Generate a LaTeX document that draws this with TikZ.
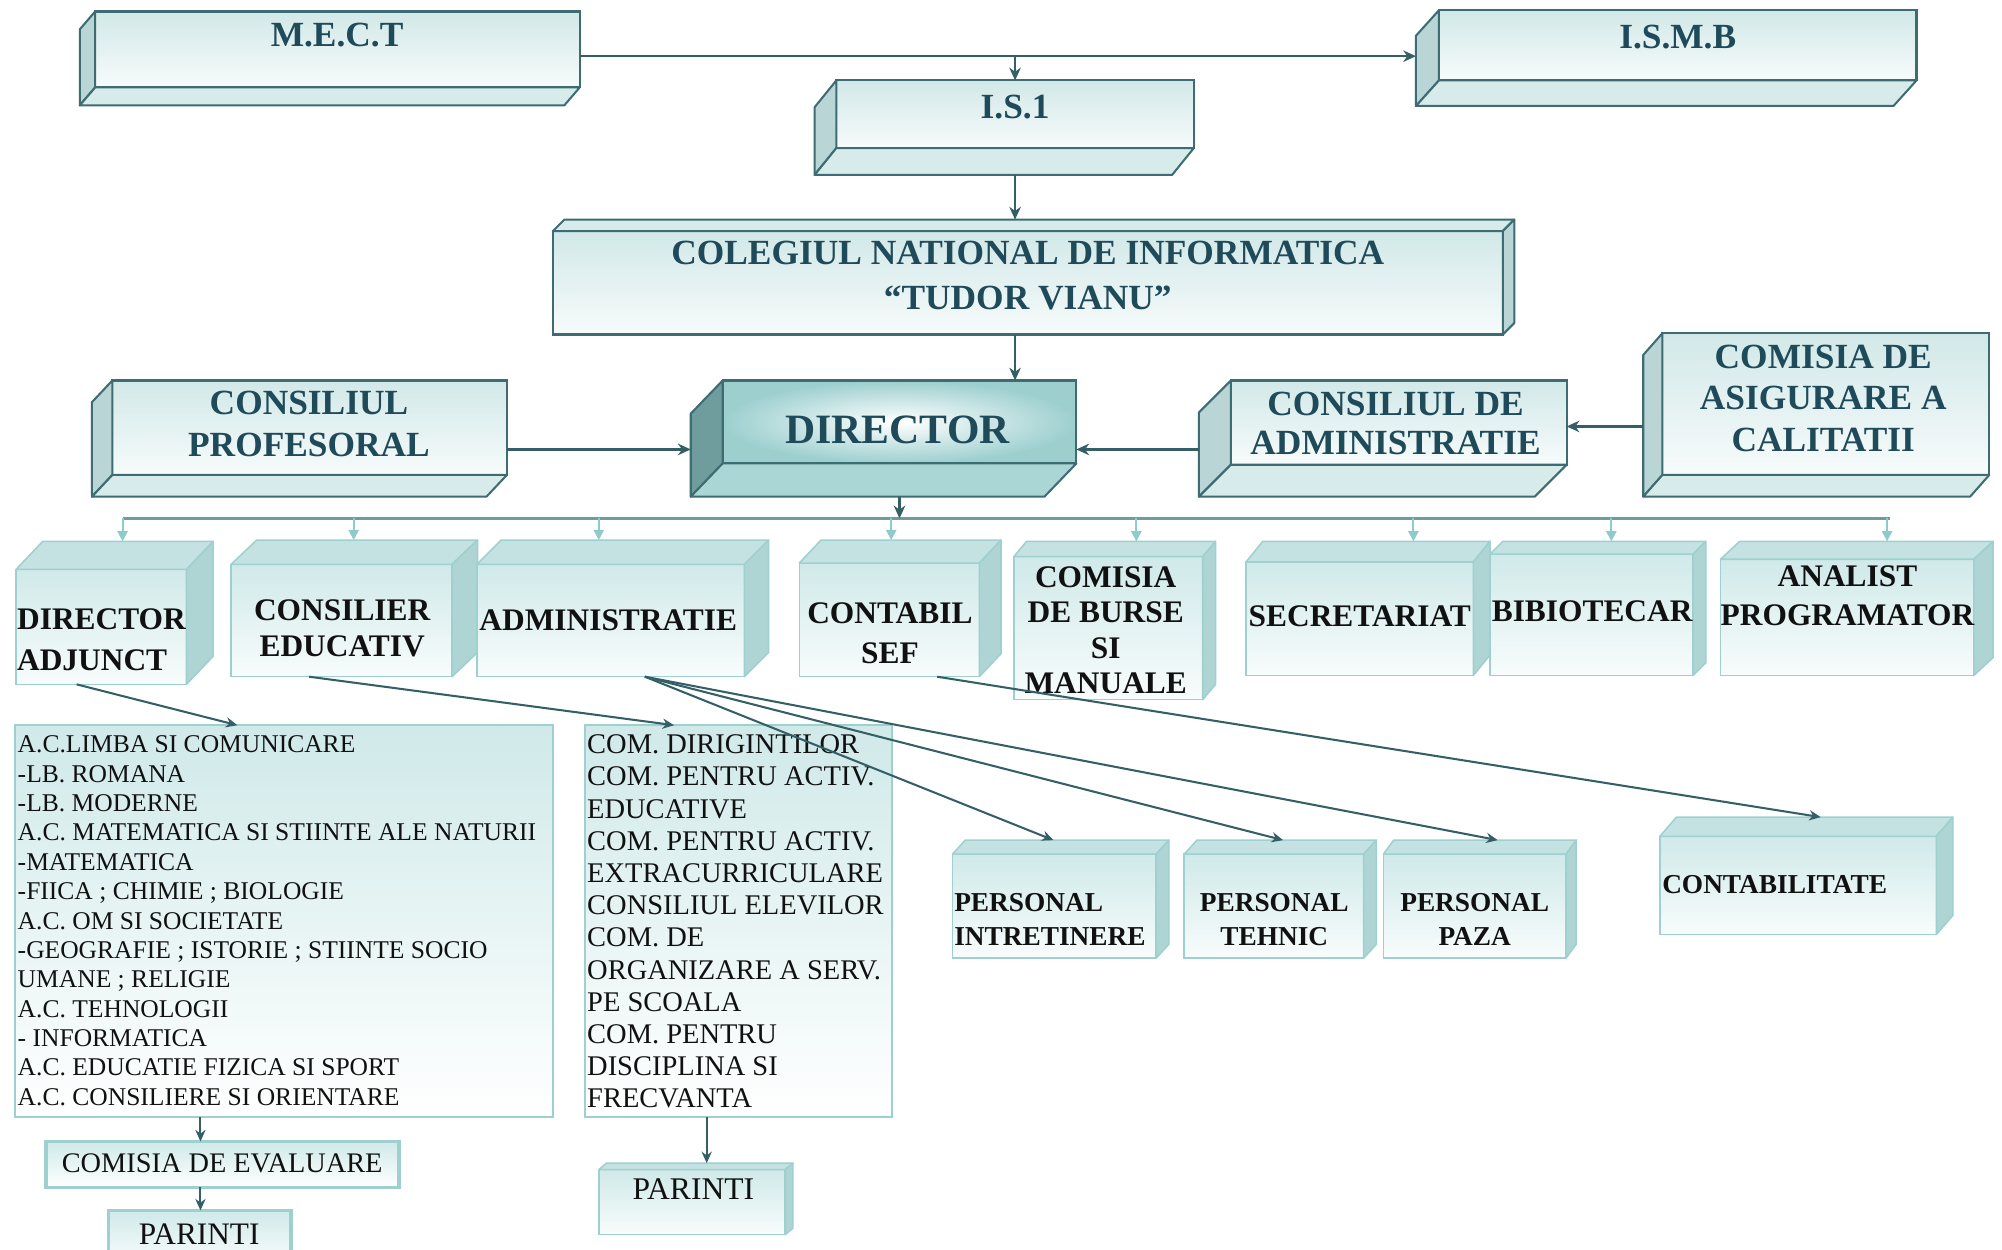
\documentclass[tikz,border=0pt]{standalone}
\usepackage{fontspec}
\setmainfont{Liberation Serif}
\usetikzlibrary{arrows.meta,calc}
\definecolor{dk}{HTML}{3D6C72}
\definecolor{tbT}{HTML}{D2E8E8}
\definecolor{tbB}{HTML}{F7FBFB}
\definecolor{tbS}{HTML}{BAD5D6}
\definecolor{tbBot}{HTML}{D7EBEB}
\definecolor{dirF}{HTML}{9DCFCF}
\definecolor{dirS}{HTML}{6F9D9E}
\definecolor{dirB}{HTML}{ABD6D6}
\definecolor{lt}{HTML}{9ED0D0}
\definecolor{lbT}{HTML}{D0E9E9}
\definecolor{lbB}{HTML}{F8FCFC}
\definecolor{lbTop}{HTML}{C4E2E2}
\definecolor{lbR}{HTML}{AFD4D4}
\definecolor{txtdk}{HTML}{1F4A59}
\definecolor{cn}{HTML}{345F66}
\definecolor{busc}{HTML}{6E9CA1}
\definecolor{dropc}{HTML}{8ECCCC}
\definecolor{txtbk}{HTML}{111111}

\newcommand{\dlbox}[8]{%
  \node[#8, minimum width={(#4-#2)*0.5pt}, minimum height={(#5-#3)*0.5pt}] (#1) at ({(#2+#4)/2},{(#3+#5)/2}) {};
  \draw[#8side] (#1.north west) -- ++(#6,#7) -- ([shift={(#6,#7)}]#1.south west) -- (#1.south west) -- cycle;
  \draw[#8bot] (#1.south west) -- ++(#6,#7) -- ([shift={(#6,#7)}]#1.south east) -- (#1.south east) -- cycle;
}
\newcommand{\urbox}[8]{%
  \node[#8, minimum width={(#4-#2)*0.5pt}, minimum height={(#5-#3)*0.5pt}] (#1) at ({(#2+#4)/2},{(#3+#5)/2}) {};
  \draw[#8top] (#1.north west) -- ++(#6,#7) -- ([shift={(#6,#7)}]#1.north east) -- (#1.north east) -- cycle;
  \draw[#8right] (#1.north east) -- ++(#6,#7) -- ([shift={(#6,#7)}]#1.south east) -- (#1.south east) -- cycle;
  \coordinate (#1-tl) at ([shift={(#6,#7)}]#1.north west);
  \coordinate (#1-tr) at ([shift={(#6,#7)}]#1.north east);
}
\newcommand{\flatbox}[6]{%
  \node[#6, minimum width={(#4-#2)*0.5pt}, minimum height={(#5-#3)*0.5pt}] (#1) at ({(#2+#4)/2},{(#3+#5)/2}) {};
}

\begin{document}
\begin{tikzpicture}[x=0.5pt,y=-0.5pt,
  tb/.style={draw=dk, line width=0.8pt, top color=tbT, bottom color=tbB, inner sep=0pt, outer sep=0pt},
  tbside/.style={draw=dk, line width=0.8pt, fill=tbS, line join=round},
  tbbot/.style={draw=dk, line width=0.8pt, fill=tbBot, line join=round},
  tbtop/.style={draw=dk, line width=0.8pt, fill=tbBot, line join=round},
  tbright/.style={draw=dk, line width=0.8pt, fill=tbS, line join=round},
  dirf/.style={draw=dk, line width=0.8pt, inner color=white, outer color=dirF, inner sep=0pt, outer sep=0pt},
  dirfside/.style={draw=dk, line width=0.8pt, fill=dirS, line join=round},
  dirfbot/.style={draw=dk, line width=0.8pt, fill=dirB, line join=round},
  lb/.style={draw=lt, line width=0.6pt, top color=lbT, bottom color=lbB, inner sep=0pt, outer sep=0pt},
  lbtop/.style={draw=lt, line width=0.6pt, fill=lbTop, line join=round},
  lbright/.style={draw=lt, line width=0.6pt, fill=lbR, line join=round},
  listbox/.style={draw=lt, line width=0.7pt, top color=lbT, bottom color=white, inner sep=0pt, outer sep=0pt},
  flatb/.style={draw=lt, line width=1.4pt, top color=lbT, bottom color=white, inner sep=0pt, outer sep=0pt},
  toptxt/.style={font=\fontsize{13.85}{#1}\selectfont\bfseries, text=txtdk, align=center, inner sep=0pt},
  toptxt/.default=17pt,
  midtxt/.style={font=\fontsize{12.3}{#1}\selectfont\bfseries, text=txtbk, align=center, inner sep=0pt},
  midtxt/.default=15pt,
  lowtxt/.style={font=\fontsize{10.7}{13.25}\selectfont\bfseries, text=txtbk, align=center, inner sep=0pt},
  conn/.style={draw=cn, line width=1pt, -{Stealth[length=5pt,width=4.5pt]}},
  conn2/.style={draw=cn, line width=0.8pt, -{Stealth[length=4.5pt,width=4pt]}},
  busline/.style={draw=busc, line width=1.1pt},
  drop/.style={draw=dropc, line width=0.8pt, -{Triangle[length=4pt,width=4pt]}}
]
\useasboundingbox[fill=white] (0,0) rectangle (1568,979);

% ---------- top level ----------
\dlbox{mect}{74.5}{9}{454}{68.5}{-12}{14}{tb}
\node[toptxt] (mect-t) at (264,27.5) {M.E.C.T};
\dlbox{ismb}{1127}{8}{1501}{63}{-18}{20}{tb}
\node[toptxt] (ismb-t) at (1314,29) {I.S.M.B};
\dlbox{is1}{655}{63}{935}{116}{-17}{21}{tb}
\node[toptxt] (is1-t) at (795,83.5) {I.S.1};
\urbox{coleg}{433}{181}{1177}{262}{9}{-9}{tb}
\node[toptxt=17.5pt] (coleg-t) at (805,216) {COLEGIUL NATIONAL DE INFORMATICA\\“TUDOR VIANU”};
\dlbox{cprof}{88}{298}{397}{372}{-16}{17}{tb}
\node[toptxt=16.75pt] (cprof-t) at (242,332) {CONSILIUL\\PROFESORAL};
\dlbox{director}{566}{298}{843}{363}{-25}{26}{dirf}
\node[font=\fontsize{16.35}{19}\selectfont\bfseries, text=txtdk, inner sep=0pt] (director-t) at (703,336.5) {DIRECTOR};
\dlbox{cda}{964}{298}{1227}{364}{-25}{25}{tb}
\node[toptxt=15.5pt] (cda-t) at (1093,331.5) {CONSILIUL DE\\ADMINISTRATIE};
\dlbox{cac}{1302}{261}{1558}{372}{-15}{17}{tb}
\node[toptxt=16.3pt] (cac-t) at (1428,312) {COMISIA DE\\ASIGURARE A\\CALITATII};

% ---------- top connectors ----------
\coordinate (j1) at (795,44);
\coordinate (ismbL) at ([xshift=-9pt]ismb.west);
\draw[conn] (mect.east |- j1) -- (ismbL |- j1);
\draw[conn] (j1) -- (is1.north);
\coordinate (is1B) at ([yshift=-10.5pt]is1.south);
\coordinate (colT) at ([yshift=4.5pt]coleg.north);
\draw[conn] (is1B) -- (colT -| is1B);
\draw[conn] (coleg.south -| j1) -- (director.north -| j1);
\coordinate (r2) at (0,352);
\coordinate (dirL) at ([xshift=-12.5pt]director.west);
\coordinate (cdaL) at ([xshift=-12.5pt]cda.west);
\coordinate (cacL) at ([xshift=-7.5pt]cac.west);
\draw[conn] (cprof.east |- r2) -- (dirL |- r2);
\draw[conn] (cdaL |- r2) -- (director.east |- r2);
\coordinate (r3) at (0,334);
\draw[conn] (cacL |- r3) -- (cda.east |- r3);

% ---------- second row ----------
\urbox{dadj}{12.5}{446}{146}{536}{21}{-22}{lb}
\node[midtxt=15.75pt, align=left, anchor=west] (dadj-t) at (13,501) {DIRECTOR\\ADJUNCT};
\urbox{cedu}{181}{442}{354}{530}{20}{-19}{lb}
\node[midtxt=14.35pt] (cedu-t) at (268,492) {CONSILIER\\EDUCATIV};
\urbox{admin}{373.5}{442}{583}{530}{19}{-19}{lb}
\node[midtxt] (admin-t) at (476.4,485.5) {ADMINISTRATIE};
\urbox{csef}{626}{441}{767}{530}{17}{-18}{lb}
\node[midtxt=15.75pt] (csef-t) at (697,495.75) {CONTABIL\\SEF};
\urbox{cbm}{794}{436}{942}{548}{10}{-12}{lb}
\node[midtxt=13.9pt] (cbm-t) at (866,493.5) {COMISIA\\DE BURSE\\SI\\MANUALE};
\urbox{secr}{976}{440}{1154}{529}{13}{-16}{lb}
\node[midtxt] (secr-t) at (1065,483) {SECRETARIAT};
\urbox{bib}{1167}{434}{1326}{529}{10}{-10}{lb}
\node[midtxt] (bib-t) at (1247,479) {BIBIOTECAR};
\urbox{anal}{1347.5}{438}{1546}{529}{15}{-14}{lb}
\node[midtxt=15pt] (anal-t) at (1447,466.6) {ANALIST\\PROGRAMATOR};

% ---------- bus ----------
\coordinate (busL) at (96,406);
\coordinate (busR) at (1480,406);
\draw[busline] (busL) -- (busR);
\coordinate (dirB) at ([yshift=-13pt]director.south);
\draw[conn] (dirB) -- (dirB |- busL);
\foreach \xx/\bx in {96/dadj,277/cedu,469/admin,698/csef,890/cbm,1107/secr,1262/bib,1478/anal}{
  \coordinate (dd) at (\xx,406);
  \draw[drop] (dd) -- (dd |- \bx-tl);
}

% ---------- lower ----------
\flatbox{lista}{12}{568}{433}{875}{listbox}
\node[font=\fontsize{10}{11.5}\selectfont, text=txtbk, align=left, anchor=north west, inner sep=0pt] (lista-t) at (13.5,576) {A.C.LIMBA SI COMUNICARE\\-LB. ROMANA\\-LB. MODERNE\\A.C. MATEMATICA SI STIINTE ALE NATURII\\-MATEMATICA\\-FIICA ; CHIMIE ; BIOLOGIE\\A.C. OM SI SOCIETATE\\-GEOGRAFIE ; ISTORIE ; STIINTE SOCIO\\UMANE ; RELIGIE\\A.C. TEHNOLOGII\\- INFORMATICA\\A.C. EDUCATIE FIZICA SI SPORT\\A.C. CONSILIERE SI ORIENTARE};
\flatbox{listb}{458}{568}{698.5}{875}{listbox}
\node[font=\fontsize{11.15}{12.6}\selectfont, text=txtbk, align=left, anchor=north west, inner sep=0pt] (listb-t) at (459.5,575.2) {COM. DIRIGINTILOR\\COM. PENTRU ACTIV.\\EDUCATIVE\\COM. PENTRU ACTIV.\\EXTRACURRICULARE\\CONSILIUL ELEVILOR\\COM. DE\\ORGANIZARE A SERV.\\PE SCOALA\\COM. PENTRU\\DISCIPLINA SI\\FRECVANTA};

\flatbox{ceval}{36}{894}{312.5}{930}{flatb}
\node[font=\fontsize{11.1}{13}\selectfont, text=txtbk, inner sep=0pt] (ceval-t) at (174,911) {COMISIA DE EVALUARE};
\flatbox{par1}{85}{948}{228}{995}{flatb}
\node[font=\fontsize{12.25}{14}\selectfont, text=txtbk, inner sep=0pt] (par1-t) at (156,967) {PARINTI};
\coordinate (a1) at (157,0);
\draw[conn2] (lista.south -| a1) -- (ceval.north -| a1);
\draw[conn2] (ceval.south -| a1) -- (par1.north -| a1);

\urbox{par2}{469}{916}{615}{967}{6}{-5}{lb}
\node[font=\fontsize{12.35}{14}\selectfont, text=txtbk, inner sep=0pt] (par2-t) at (543,931.5) {PARINTI};
\coordinate (a2) at (553.5,0);
\draw[conn2] (listb.south -| a2) -- (par2-tl -| a2);

\urbox{pint}{746}{669}{905.5}{750.5}{10}{-11}{lb}
\node[lowtxt, align=left, anchor=west] (pint-t) at (747,720.25) {PERSONAL\\INTRETINERE};
\urbox{pteh}{927.5}{669}{1068}{750.5}{10}{-11}{lb}
\node[lowtxt] (pteh-t) at (998,720.25) {PERSONAL\\TEHNIC};
\urbox{ppaz}{1083.5}{669}{1226.5}{750.5}{8}{-11}{lb}
\node[lowtxt] (ppaz-t) at (1155,720.25) {PERSONAL\\PAZA};
\urbox{cont}{1300}{655}{1516.5}{732}{13}{-15}{lb}
\node[lowtxt, anchor=west] (cont-t) at (1301.5,693) {CONTABILITATE};

% ---------- lower connectors ----------
\draw[conn2] ($(dadj.south west)!0.356!(dadj.south east)$) -- ($(lista.north west)!0.413!(lista.north east)$);
\draw[conn2] ($(cedu.south west)!0.353!(cedu.south east)$) -- ($(listb.north west)!0.291!(listb.north east)$);
\draw[conn2] ($(admin.south west)!0.628!(admin.south east)$) -- ($(pint-tl)!0.433!(pint-tr)$);
\draw[conn2] ($(admin.south west)!0.628!(admin.south east)$) -- ($(pteh-tl)!0.48!(pteh-tr)$);
\draw[conn2] ($(admin.south west)!0.628!(admin.south east)$) -- ($(ppaz-tl)!0.57!(ppaz-tr)$);
\draw[conn2] ($(csef.south west)!0.766!(csef.south east)$) -- ($(cont-tl)!0.522!(cont-tr)$);
\end{tikzpicture}
\end{document}
